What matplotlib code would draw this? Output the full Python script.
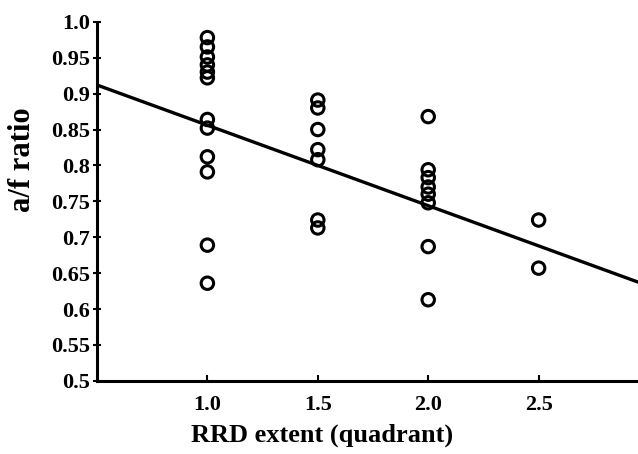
import matplotlib
matplotlib.use("Agg")
import matplotlib.pyplot as plt

# a/f ratio readings per RRD extent (quadrant)
x_10 = [1.0] * 12
y_10 = [0.978, 0.965, 0.951, 0.940, 0.930, 0.922, 0.864, 0.852, 0.812, 0.791, 0.689, 0.636]
x_15 = [1.5] * 7
y_15 = [0.891, 0.880, 0.850, 0.822, 0.808, 0.724, 0.713]
x_20 = [2.0] * 8
y_20 = [0.868, 0.794, 0.783, 0.770, 0.760, 0.748, 0.687, 0.613]
x_25 = [2.5] * 2
y_25 = [0.724, 0.657]

# regression line end points
fit_x = [0.5, 3.0]
fit_y = [0.912, 0.632]

xticks = [1.0, 1.5, 2.0, 2.5]
xtick_labels = ["1.0", "1.5", "2.0", "2.5"]
yticks = [0.5, 0.55, 0.6, 0.65, 0.7, 0.75, 0.8, 0.85, 0.9, 0.95, 1.0]
ytick_labels = ["0.5", "0.55", "0.6", "0.65", "0.7", "0.75", "0.8", "0.85", "0.9", "0.95", "1.0"]

plt.rcParams["font.family"] = ["Liberation Serif", "DejaVu Serif"]
plt.rcParams["font.weight"] = "bold"

fig = plt.figure(figsize=(6.38, 4.54), dpi=100)
ax = fig.add_axes([0.152, 0.161, 0.848, 0.791])

xs = x_10 + x_15 + x_20 + x_25
ys = y_10 + y_15 + y_20 + y_25
ax.plot(fit_x, fit_y, color="black", linewidth=2.4, zorder=2)
ax.scatter(xs, ys, s=80, facecolors="none", edgecolors="black",
           linewidths=2.2, zorder=3)

ax.set_xlim(0.5, 2.95)
ax.set_ylim(0.5, 1.0)
ax.set_xticks(xticks)
ax.set_xticklabels(xtick_labels, fontsize=16, fontweight="bold")
ax.set_yticks(yticks)
ax.set_yticklabels(ytick_labels, fontsize=16, fontweight="bold")

for side in ("top", "right"):
    ax.spines[side].set_visible(False)
for side in ("left", "bottom"):
    ax.spines[side].set_linewidth(2.2)
ax.tick_params(axis="y", direction="inout", length=6, width=1.5, pad=2)
ax.tick_params(axis="x", direction="in", length=4, width=1.5, pad=10)

ax.set_xlabel("RRD extent (quadrant)", fontsize=19, fontweight="bold")
ax.xaxis.set_label_coords(0.416, -0.118)
ax.set_ylabel("a/f ratio", fontsize=22, fontweight="bold")
ax.yaxis.set_label_coords(-0.111, 0.616)

fig.savefig("out.png", dpi=100)
